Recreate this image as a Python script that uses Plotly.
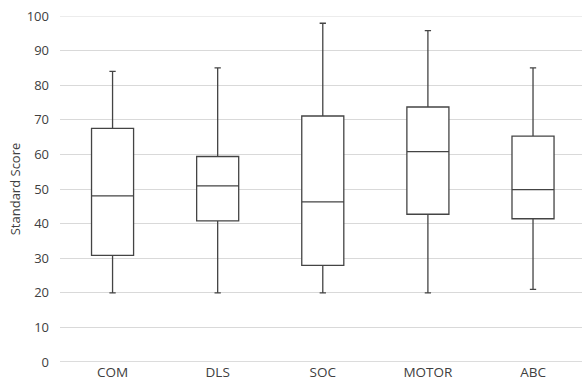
import plotly.graph_objects as go

categories = ["COM", "DLS", "SOC", "MOTOR", "ABC"]
lower = [20, 20, 20, 20, 21]
q1 = [30.8, 40.8, 27.9, 42.7, 41.4]
median = [48.0, 50.9, 46.3, 60.8, 49.8]
q3 = [67.5, 59.4, 71.1, 73.7, 65.3]
upper = [84, 85, 97.9, 95.8, 85]
y_ticks = list(range(0, 101, 10))

fig = go.Figure()
fig.add_trace(go.Box(
    x=categories,
    q1=q1, median=median, q3=q3,
    lowerfence=lower, upperfence=upper,
    fillcolor="white",
    line=dict(color="#444444", width=1.3),
    whiskerwidth=0.15,
    width=0.4,
    boxpoints=False,
    showlegend=False,
    hoverinfo="skip",
))

fig.update_layout(
    width=582, height=387,
    margin=dict(l=60, r=0, t=16, b=25),
    paper_bgcolor="white", plot_bgcolor="white",
    font=dict(family="Open Sans, sans-serif", size=13, color="#404040"),
    xaxis=dict(
        type="category",
        range=[-0.5, 4.466],
        showgrid=False, zeroline=False, showline=False,
        ticks="", tickfont=dict(size=13.5, color="#404040"),
        automargin=False,
    ),
    yaxis=dict(
        range=[0, 100], tickvals=y_ticks,
        showgrid=True, gridcolor="#d9d9d9", gridwidth=1,
        zeroline=False, showline=False, ticks="",
        ticklabelstandoff=10,
        tickfont=dict(size=13, color="#404040"),
        automargin=False,
        title=dict(text="Standard Score", font=dict(size=13, color="#404040"), standoff=3),
    ),
)
fig.add_hline(y=y_ticks[0], line=dict(color="#d0d0d0", width=1.5), layer="below")
fig.add_hline(y=y_ticks[-1], line=dict(color="#d9d9d9", width=1), layer="below")

fig.write_html(
    "out.html",
    config={"displayModeBar": False},
    post_script="document.body.style.margin='0';document.body.style.overflow='hidden';",
)
